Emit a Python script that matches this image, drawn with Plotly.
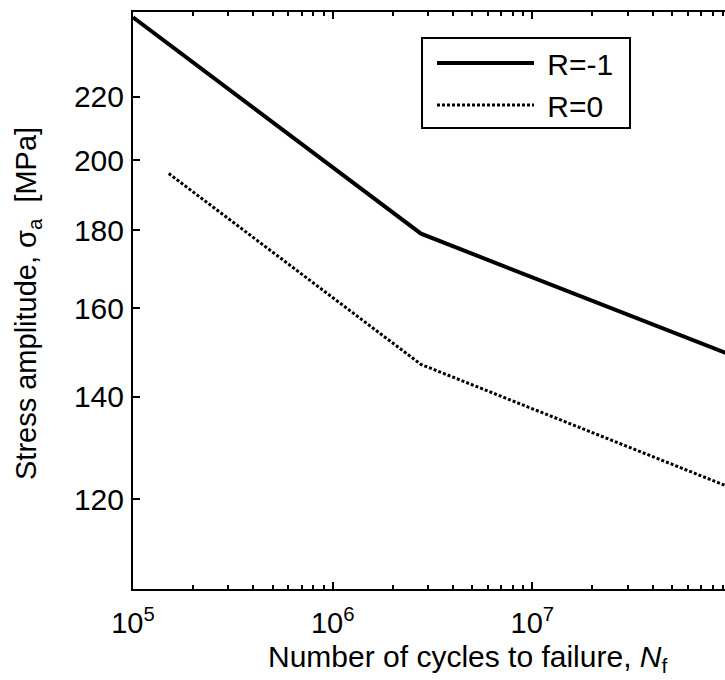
import plotly.graph_objects as go

# Data
cycles_r_neg1 = [1e5, 2.77e6, 1e8]
stress_r_neg1 = [248, 179, 149]
cycles_r0 = [1.51e5, 2.77e6, 1e8]
stress_r0 = [196, 147, 122]

x_tickvals = [1e5, 1e6, 1e7]
x_ticktext = ["10<sup>5</sup>", "10<sup>6</sup>", "10<sup>7</sup>"]
x_minor = [m * 10 ** e for e in (5, 6, 7) for m in range(2, 10)]
y_tickvals = [120, 140, 160, 180, 200, 220]

FONT = "Liberation Sans, Arial, sans-serif"

# plot area in pixels: left 133, right 725, top 12, bottom 589
PL, PR, PT, PB = 133, 725, 12, 589


def px_x(x):
    return (x - PL) / (PR - PL)


def px_y(y):
    return 1 - (y - PT) / (PB - PT)


fig = go.Figure()
fig.add_trace(go.Scatter(x=cycles_r_neg1, y=stress_r_neg1, mode="lines",
                         name="&nbsp;R=-1",
                         line=dict(color="black", width=4)))
fig.add_trace(go.Scatter(x=cycles_r0, y=stress_r0, mode="lines",
                         name="&nbsp;R=0",
                         line=dict(color="black", width=3, dash="3px,2px")))

# legend frame
fig.add_shape(type="rect", xref="paper", yref="paper",
              x0=px_x(422), x1=px_x(630), y0=px_y(128), y1=px_y(38),
              line=dict(color="black", width=2), fillcolor="white", layer="above")

fig.update_layout(
    width=725, height=680,
    margin=dict(l=PL, r=0, t=PT, b=680 - PB),
    paper_bgcolor="white", plot_bgcolor="white",
    font=dict(family=FONT, color="black", size=28),
    showlegend=True,
    legend=dict(x=px_x(432), y=px_y(37), xanchor="left", yanchor="top",
                bgcolor="rgba(0,0,0,0)", borderwidth=0,
                font=dict(size=30, family=FONT), itemwidth=97,
                tracegroupgap=0),
    xaxis=dict(type="log", range=[5, 7.965], showgrid=False, zeroline=False,
               showline=True, linecolor="black", linewidth=2, mirror="allticks",
               ticks="inside", ticklen=7, tickwidth=2, tickcolor="black",
               tickmode="array", tickvals=x_tickvals, ticktext=x_ticktext,
               tickfont=dict(size=29), ticklabelstandoff=7,
               minor=dict(ticks="inside", ticklen=4, tickwidth=1.5, tickcolor="black",
                          tickmode="array", tickvals=x_minor, showgrid=False)),
    yaxis=dict(type="log", range=[2.02036, 2.39794], showgrid=False, zeroline=False,
               showline=True, linecolor="black", linewidth=2, mirror=False,
               ticks="inside", ticklen=7, tickwidth=2, tickcolor="black",
               tickmode="array", tickvals=y_tickvals,
               ticktext=[str(v) for v in y_tickvals],
               tickfont=dict(size=30), ticklabelstandoff=1),
)

fig.add_annotation(xref="paper", yref="paper", x=px_x(467), y=px_y(658),
                   xanchor="center", yanchor="middle", showarrow=False,
                   text="Number of cycles to failure, <i>N</i><sub>f</sub>",
                   font=dict(size=30, family=FONT))
fig.add_annotation(xref="paper", yref="paper", x=px_x(28), y=px_y(304),
                   xanchor="center", yanchor="middle", showarrow=False, textangle=-90,
                   text="Stress amplitude, σ<sub>a</sub>&nbsp;&nbsp;[MPa]",
                   font=dict(size=29, family=FONT))

fig.write_html("out.html")
